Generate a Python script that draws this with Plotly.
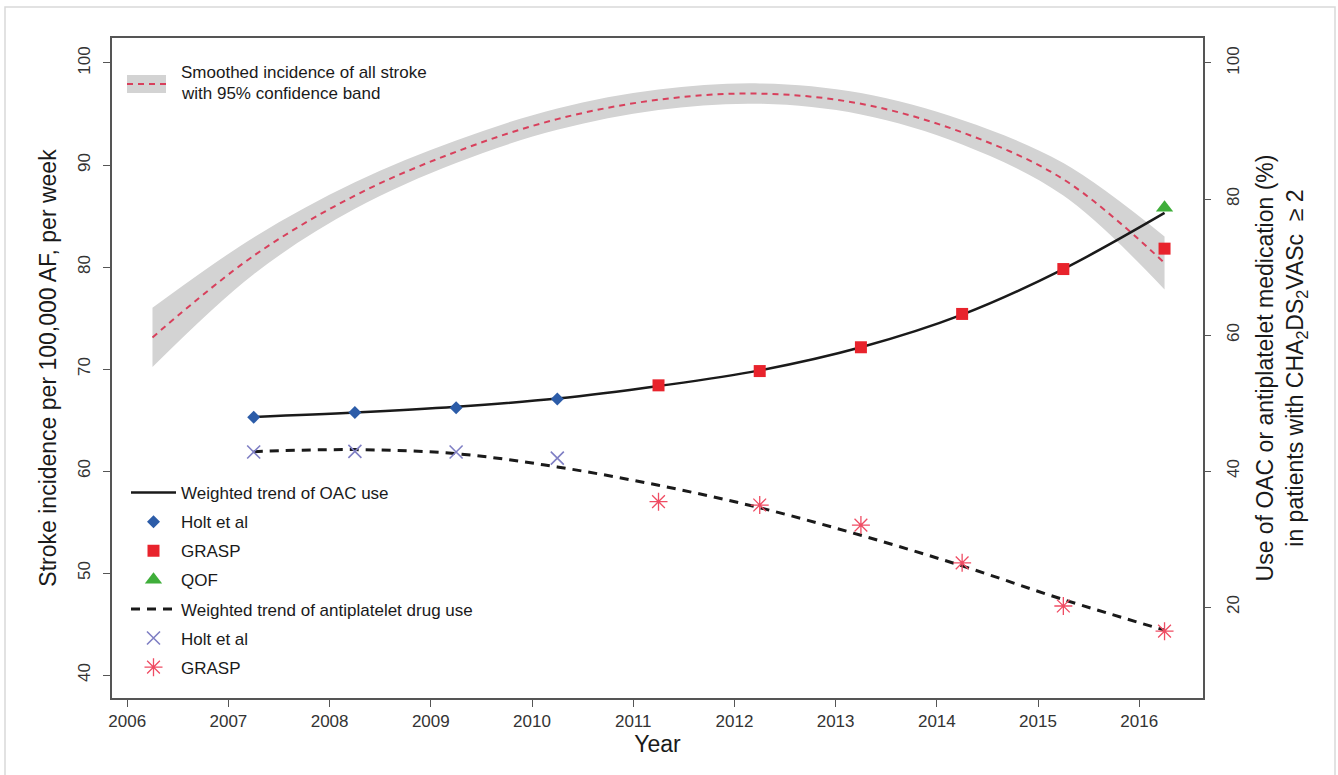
import plotly.graph_objects as go

# ---- smoothed weekly stroke incidence (left axis) ----
smooth_years = [2006.25, 2007.25, 2008.25, 2009.25, 2010.25, 2011.25,
                2012.25, 2013.25, 2014.25, 2015.25, 2016.25]
smooth_rate = [73.1, 81.1, 87.0, 91.3, 94.5, 96.4, 97.0, 96.0, 93.2, 88.6, 80.4]
smooth_upper = [76.0, 82.9, 88.3, 92.4, 95.55, 97.4, 98.0, 97.05, 94.4, 90.2, 83.0]
smooth_lower = [70.2, 79.3, 85.7, 90.2, 93.45, 95.4, 96.0, 94.95, 92.0, 87.0, 77.8]

# ---- medication use, % of patients (right axis) ----
trend_years = [2007.25, 2008.25, 2009.25, 2010.25, 2011.25,
               2012.25, 2013.25, 2014.25, 2015.25, 2016.25]
oac_trend = [47.95, 48.6, 49.45, 50.65, 52.5, 54.8, 58.2, 63.0, 69.7, 77.95]
anti_trend = [42.85, 43.15, 42.55, 40.6, 37.9, 34.6, 30.55, 26.05, 21.1, 16.6]

holt_years = [2007.25, 2008.25, 2009.25, 2010.25]
holt_oac = [47.9, 48.6, 49.3, 50.6]
holt_anti = [42.8, 42.9, 42.8, 41.9]

grasp_years = [2011.25, 2012.25, 2013.25, 2014.25, 2015.25, 2016.25]
grasp_oac = [52.6, 54.7, 58.2, 63.1, 69.7, 72.7]
grasp_anti = [35.5, 35.0, 32.05, 26.5, 20.15, 16.45]

qof_years = [2016.25]
qof_oac = [78.7]

year_ticks = list(range(2006, 2017))
left_ticks = [40, 50, 60, 70, 80, 90, 100]
right_ticks = [20, 40, 60, 80, 100]

FONT = "Liberation Sans, Arial, Helvetica, sans-serif"
BAND = "#d3d3d3"
RED_LINE = "#d8405c"
AXIS = "#555555"

fig = go.Figure()

# confidence band
fig.add_trace(go.Scatter(x=smooth_years, y=smooth_lower, mode="lines",
                         line=dict(width=0, shape="spline"), showlegend=False,
                         hoverinfo="skip"))
fig.add_trace(go.Scatter(x=smooth_years, y=smooth_upper, mode="lines",
                         line=dict(width=0, shape="spline"), fill="tonexty",
                         fillcolor=BAND, showlegend=False, hoverinfo="skip"))
fig.add_trace(go.Scatter(x=smooth_years, y=smooth_rate, mode="lines",
                         line=dict(color=RED_LINE, width=2, dash="6px,5px",
                                   shape="spline"),
                         showlegend=False))

leg = dict(legend="legend2")

fig.add_trace(go.Scatter(x=trend_years, y=oac_trend, yaxis="y2", mode="lines",
                         name="Weighted trend of OAC use", legendgroup="a",
                         line=dict(color="#1a1a1a", width=2.5, shape="spline"), **leg))
fig.add_trace(go.Scatter(x=holt_years, y=holt_oac, yaxis="y2", mode="markers",
                         name="Holt et al", legendgroup="b",
                         marker=dict(symbol="diamond", size=10, color="#2c5ca8"), **leg))
fig.add_trace(go.Scatter(x=grasp_years, y=grasp_oac, yaxis="y2", mode="markers",
                         name="GRASP", legendgroup="c",
                         marker=dict(symbol="square", size=12, color="#e8232c"), **leg))
fig.add_trace(go.Scatter(x=qof_years, y=qof_oac, yaxis="y2", mode="markers",
                         name="QOF", legendgroup="d",
                         marker=dict(symbol="triangle-up", size=15, color="#3fae3a"), **leg))
fig.add_trace(go.Scatter(x=trend_years, y=anti_trend, yaxis="y2", mode="lines",
                         name="Weighted trend of antiplatelet drug use", legendgroup="e",
                         line=dict(color="#1a1a1a", width=3, dash="9px,7px",
                                   shape="spline"), **leg))
fig.add_trace(go.Scatter(x=holt_years, y=holt_anti, yaxis="y2", mode="markers",
                         name="Holt et al", legendgroup="f",
                         marker=dict(symbol="x-thin-open", size=13, color="#7f7fc4",
                                     line=dict(width=1.6, color="#7f7fc4")), **leg))
fig.add_trace(go.Scatter(x=grasp_years, y=grasp_anti, yaxis="y2", mode="markers",
                         name="GRASP", legendgroup="g",
                         marker=dict(symbol="asterisk-open", size=15, color="#ef4c63",
                                     line=dict(width=1.3, color="#ef4c63")), **leg))

# plot-area geometry in pixels, used for the hand-made top legend
L, R, T, B = 112, 135, 38, 77
W, H = 1338, 775
PW, PH = W - L - R, H - T - B


def px(x):
    return (x - L) / PW


def py(y):
    return (H - B - y) / PH


shapes = [
    # outer frame
    dict(type="rect", xref="paper", yref="paper", x0=px(5), x1=px(1335),
         y0=py(782), y1=py(7), line=dict(color="#d9d9d9", width=1.5), layer="below"),
    # legend key for the smoothed incidence
    dict(type="rect", xref="paper", yref="paper", x0=px(127), x1=px(166),
         y0=py(93), y1=py(75), fillcolor=BAND, line=dict(width=0)),
    dict(type="line", xref="paper", yref="paper", x0=px(127), x1=px(166),
         y0=py(84), y1=py(84), line=dict(color=RED_LINE, width=2, dash="6px,5px")),
]

annotations = [
    dict(xref="paper", yref="paper", x=px(179), y=py(73), xanchor="left",
         yanchor="middle", showarrow=False, text="Smoothed incidence of all stroke",
         font=dict(family=FONT, size=17, color="#1a1a1a")),
    dict(xref="paper", yref="paper", x=px(179), y=py(93), xanchor="left",
         yanchor="middle", showarrow=False, text="with 95% confidence band",
         font=dict(family=FONT, size=17, color="#1a1a1a")),
]

xrange = [2005.85, 2016.63]

fig.update_layout(
    width=W, height=H,
    margin=dict(l=L, r=R, t=T, b=B),
    paper_bgcolor="white", plot_bgcolor="white",
    font=dict(family=FONT, color="#333333"),
    shapes=shapes, annotations=annotations,
    xaxis=dict(range=xrange, tickvals=year_ticks, ticks="outside", ticklen=7,
               tickwidth=1.3, tickcolor=AXIS, showline=True, linecolor=AXIS,
               linewidth=1.6, mirror=True, showgrid=False, zeroline=False,
               tickfont=dict(size=17, color="#333333"),
               title=dict(text="Year", font=dict(size=23, color="#1a1a1a"), standoff=2)),
    xaxis2=dict(range=xrange, tickvals=year_ticks, overlaying="x", side="top",
                anchor="y", ticks="inside", ticklen=5, tickwidth=1.3, tickcolor=AXIS,
                showticklabels=False, showline=False, showgrid=False, zeroline=False),
    yaxis=dict(range=[37.75, 102.45], tickvals=left_ticks, tickangle=-90,
               ticks="outside", ticklen=7, tickwidth=1.3, tickcolor=AXIS,
               showline=True, linecolor=AXIS, linewidth=1.6, mirror=True,
               showgrid=False, zeroline=False, ticklabelstandoff=6,
               tickfont=dict(size=17, color="#333333"),
               title=dict(text="Stroke incidence per 100,000 AF, per week",
                          font=dict(size=23, color="#1a1a1a"), standoff=12)),
    yaxis2=dict(range=[6.625, 103.675], tickvals=right_ticks, tickangle=-90,
                overlaying="y", side="right", ticks="outside", ticklen=7,
                tickwidth=1.3, tickcolor=AXIS, showline=False, showgrid=False,
                zeroline=False, ticklabelstandoff=8,
                tickfont=dict(size=17, color="#333333"),
                title=dict(text="Use of OAC or antiplatelet medication (%)<br>"
                                "in patients with CHA<sub>2</sub>DS<sub>2</sub>VASc  \u2265 2",
                           font=dict(size=23, color="#1a1a1a"), standoff=14)),
    legend2=dict(x=px(126), y=py(475), xanchor="left", yanchor="top",
                 bgcolor="rgba(0,0,0,0)", traceorder="grouped", tracegroupgap=4,
                 itemwidth=45,
                 font=dict(family=FONT, size=17, color="#1a1a1a")),
    showlegend=True,
)

fig.write_html("out.html")
